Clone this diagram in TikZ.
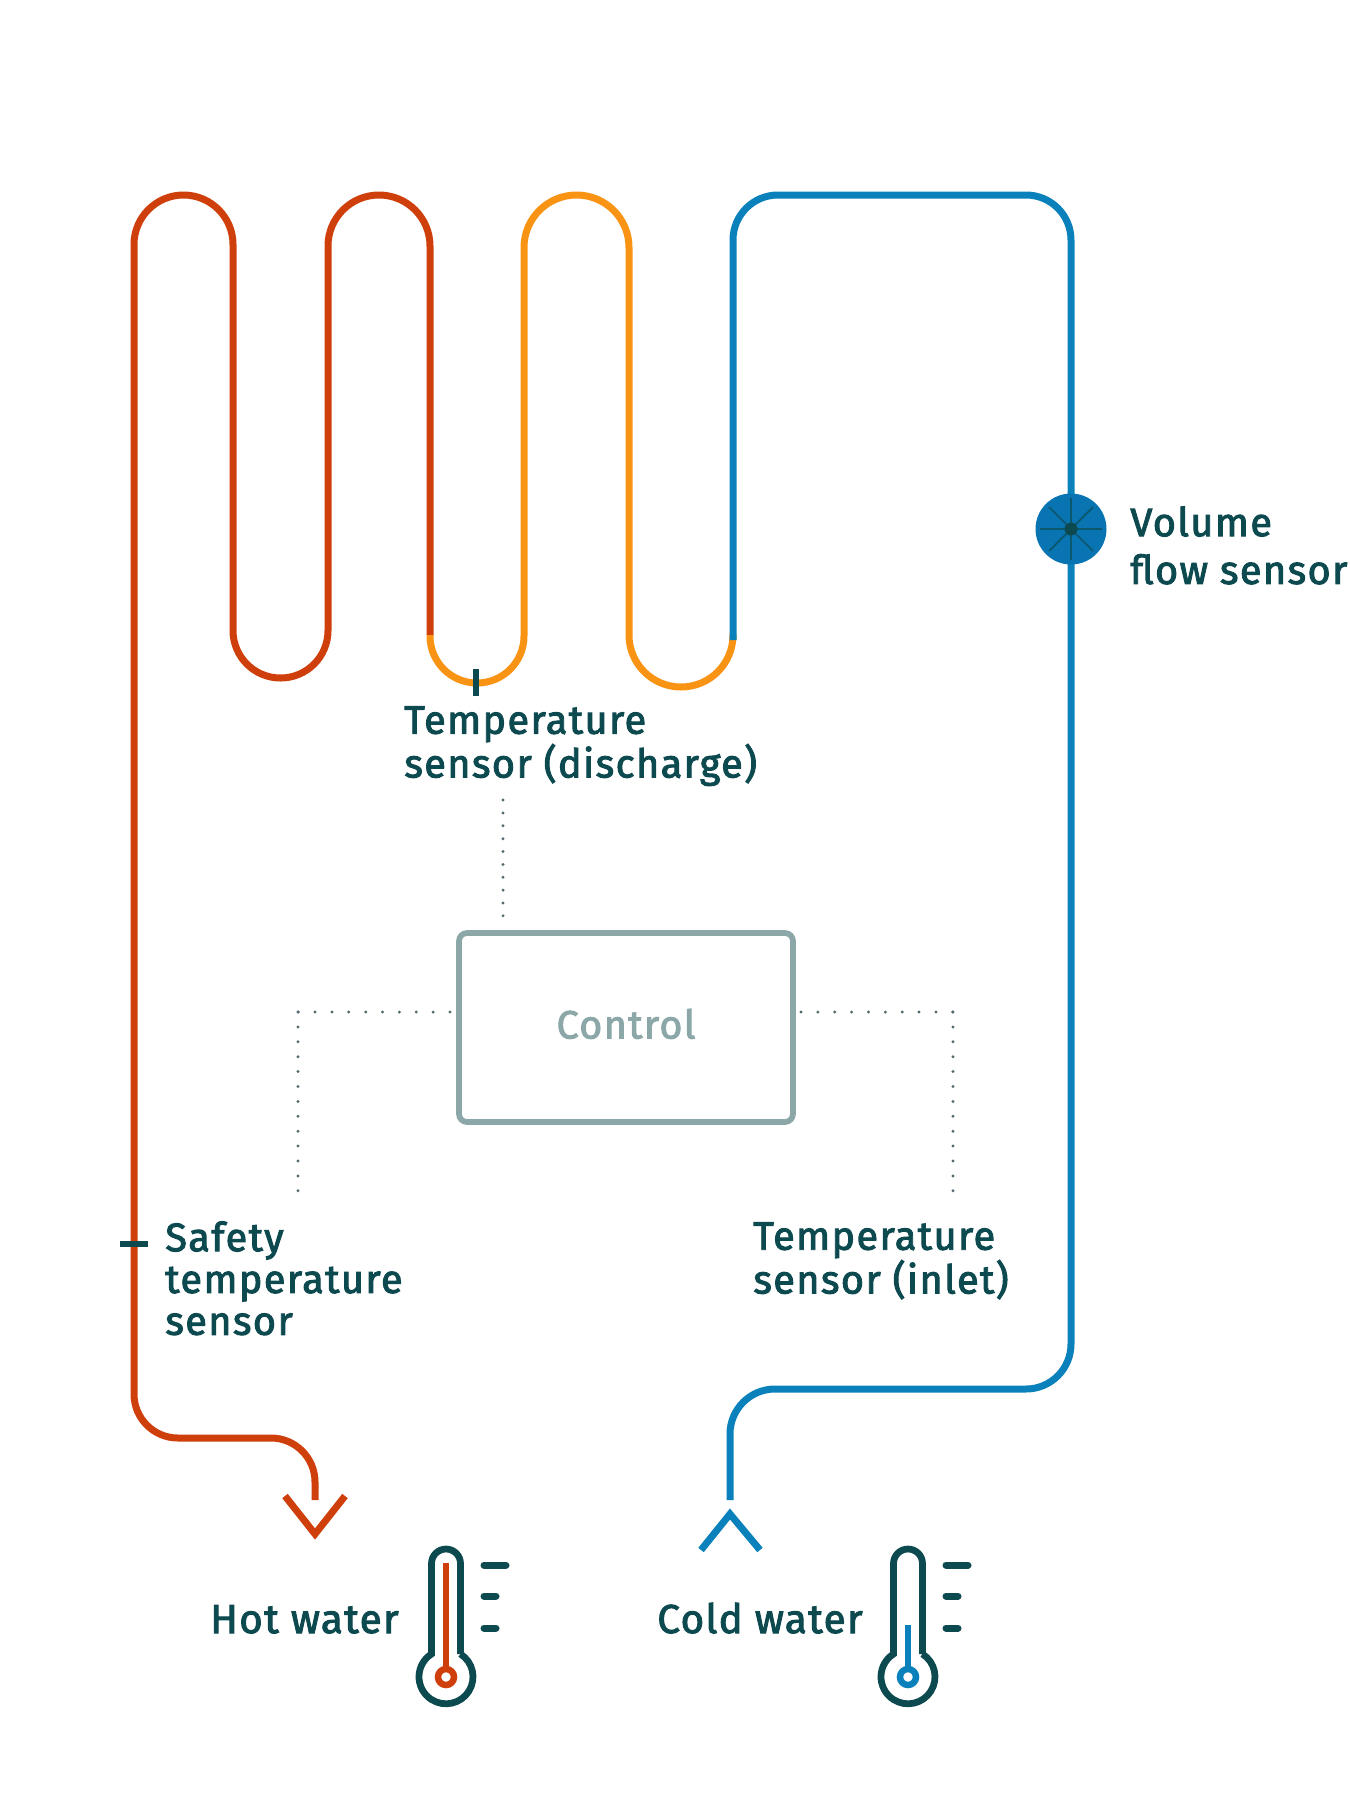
\documentclass[tikz,border=0pt]{standalone}
\usepackage{fontspec}
\setmainfont{Fira Sans}[FakeBold=2.4, LetterSpace=3.5]
\usetikzlibrary{positioning}
\definecolor{hotred}{RGB}{207,63,12}
\definecolor{warmorange}{RGB}{248,147,20}
\definecolor{coldblue}{RGB}{10,129,186}
\definecolor{discblue}{RGB}{8,116,178}
\definecolor{darkteal}{RGB}{13,74,80}
\definecolor{ctrlgrey}{RGB}{140,167,168}
\definecolor{dotgrey}{RGB}{84,106,110}
\tikzstyle{pipe} = [line width=0.14cm, line join=round]
\tikzstyle{sensortick} = [line width=0.13cm, color=darkteal]
\tikzstyle{dotline} = [line width=0.065cm, line cap=round, color=dotgrey]
\tikzstyle{controlbox} = [draw=ctrlgrey, text=ctrlgrey, line width=0.115cm, rounded corners=0.16cm, minimum width=6.68cm, minimum height=3.78cm, text height=14pt, text depth=1.5pt, font=\fontsize{22.5}{24}\selectfont]
\tikzstyle{sensorlabel} = [anchor=north west, inner sep=0pt, align=left, text=darkteal, font=\fontsize{22.6}{23.8}\selectfont]
\tikzstyle{waterlabel} = [anchor=base west, inner sep=0pt, text=darkteal, font=\fontsize{23}{23.8}\selectfont]
\begin{document}
\begin{tikzpicture}[x=0.02cm, y=-0.02cm]
    \useasboundingbox (0,0) rectangle (1350,1800);
    % hot run, from the middle of the coil to the outlet
    \coordinate (redstart) at (430,635);
    \coordinate (hotend) at (315,1500);
    \draw [pipe, hotred] (redstart) [rounded corners=1.02cm] -- (430,195) -- (328,195) [rounded corners=0.95cm] -- (328,678) -- (233,678) [rounded corners=0.99cm] -- (233,195) -- (134,195) [rounded corners=0.88cm] -- (134,1438) -- (315,1438) -- (hotend);
    % warm run
    \coordinate (orangeend) at (733,640);
    \draw [pipe, warmorange] (redstart) [rounded corners=0.94cm] -- (430,683) -- (524,683) [rounded corners=1.05cm] -- (524,195) -- (629,195) [rounded corners=1.04cm] -- (629,687) -- (733,687) -- (orangeend);
    % cold run
    \coordinate (coldend) at (730,1500);
    \draw [pipe, coldblue] (orangeend) [rounded corners=0.9cm] -- (733,195) -- (1071,195) -- (1071,1389) -- (730,1389) -- (coldend);
    % arrows
    \coordinate (hotl) at (285,1496);
    \coordinate (hottip) at (315,1534);
    \coordinate (hotr) at (345,1496);
    \coordinate (coldl) at (701,1550);
    \coordinate (coldtip) at (730,1514);
    \coordinate (coldr) at (760,1550);
    \draw [pipe, hotred, line join=miter] (hotl) -- (hottip) -- (hotr);
    \draw [pipe, coldblue, line join=miter] (coldl) -- (coldtip) -- (coldr);
    % flow sensor
    \node (flow) [circle, fill=discblue, minimum size=1.42cm, inner sep=0pt] at (1071,529) {};
    \foreach \ang in {0,45,...,315}
        \draw [line width=0.035cm, color=darkteal!70!discblue] (flow.center) -- ++(\ang:31);
    \fill [darkteal] (flow.center) circle [radius=0.13cm];
    \node (flowlabel) [sensorlabel] at (1130,506) {Volume\\[3.4pt]flow sensor};
    % ticks
    \coordinate (dischtop) at (476,669);
    \coordinate (dischbot) at (476,696);
    \coordinate (safel) at (120,1244);
    \coordinate (safer) at (148,1244);
    \draw [sensortick] (dischtop) -- (dischbot);
    \draw [sensortick] (safel) -- (safer);
    \node (dischlabel) [sensorlabel] at (404,706) {Temperature\\sensor (discharge)};
    \node (safelabel) [sensorlabel] at (165,1221) {Safety\\temperature\\sensor};
    \node (inletlabel) [sensorlabel] at (753,1222) {Temperature\\sensor (inlet)};
    % control and its dotted lines
    \node (control) [controlbox] at (626,1027.5) {Control};
    \coordinate (dotdisch) at (503,800);
    \coordinate (ctrltop) at (503,916);
    \coordinate (ctrlleft) at (450,1012);
    \coordinate (dotleftbend) at (298,1012);
    \coordinate (dotsafe) at (298,1191);
    \coordinate (ctrlright) at (801,1012);
    \coordinate (dotrightbend) at (953,1012);
    \coordinate (dotinlet) at (953,1191);
    \draw [dotline, dash pattern=on 0pt off 0.2575cm] (dotdisch) -- (ctrltop);
    \draw [dotline, dash pattern=on 0pt off 0.3375cm] (ctrlleft) -- (dotleftbend);
    \draw [dotline, dash pattern=on 0pt off 0.298cm] (dotleftbend) -- (dotsafe);
    \draw [dotline, dash pattern=on 0pt off 0.3375cm] (ctrlright) -- (dotrightbend);
    \draw [dotline, dash pattern=on 0pt off 0.298cm] (dotrightbend) -- (dotinlet);
    % thermometers
    \node (hotlabel) [waterlabel] at (210,1633) {Hot water};
    \node (coldlabel) [waterlabel] at (657,1633) {Cold water};
    \foreach \tx/\tcol/\ttop in {446/hotred/1563, 908/coldblue/1625} {
        \begin{scope}[shift={(\tx,0)}]
            \draw [line width=0.135cm, color=darkteal] (14.5,1654) arc [start angle=-57.5, end angle=237.5, radius=27] [rounded corners=0.29cm] -- (-14.5,1549) -- (14.5,1549) -- (14.5,1654);
            \draw [line width=0.11cm, color=\tcol] (0,\ttop) -- (0,1669);
            \draw [line width=0.13cm, color=\tcol] (0,1677) circle [radius=8];
            \draw [line width=0.14cm, line cap=round, color=darkteal] (38,1565) -- (60,1565);
            \draw [line width=0.14cm, line cap=round, color=darkteal] (38,1596) -- (50,1596);
            \draw [line width=0.14cm, line cap=round, color=darkteal] (38,1628) -- (50,1628);
        \end{scope}
    }
\end{tikzpicture}
\end{document}
